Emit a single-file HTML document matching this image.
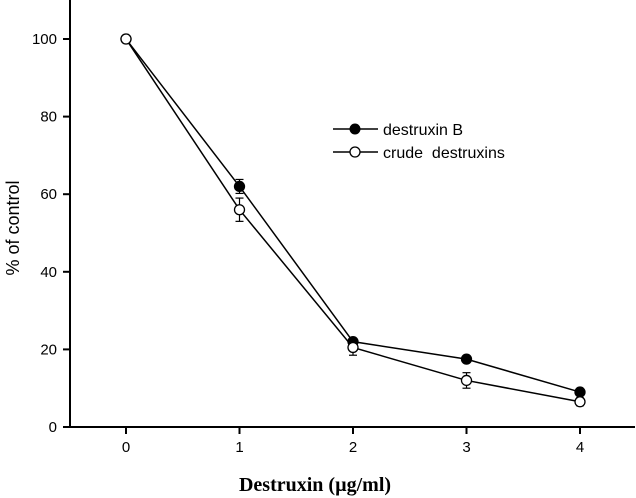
<!DOCTYPE html>
<html><head><meta charset="utf-8"><style>
body{margin:0;background:#fff;}
svg{display:block;font-family:"Liberation Sans",Arial,sans-serif;}
</style></head><body>
<svg id="c" width="636" height="498" viewBox="0 0 636 498" xmlns="http://www.w3.org/2000/svg"></svg>
<script>
const xCats=[0,1,2,3,4];
const destruxinB=[100,62,22,17.5,9];
const destruxinBErr=[0,1.8,0.8,0.8,0.8];
const crude=[100,56,20.5,12,6.5];
const crudeErr=[0,3,2,2,1];
const yTicks=[0,20,40,60,80,100];
const NS="http://www.w3.org/2000/svg";
const svg=document.getElementById('c');
const X=v=>126+v*113.5;
const Y=v=>427-v*3.88;
function mk(t,a,p){const e=document.createElementNS(NS,t);for(const k in a)e.setAttribute(k,a[k]);(p||svg).appendChild(e);return e;}
const ax=mk('g',{});


mk('line',{x1:70,y1:0,x2:70,y2:428,stroke:'#000','stroke-width':2},ax);
mk('line',{x1:69,y1:427,x2:635,y2:427,stroke:'#000','stroke-width':2},ax);
yTicks.forEach(v=>{
 mk('line',{x1:63,y1:Y(v),x2:70,y2:Y(v),stroke:'#000','stroke-width':2},ax);
 const t=mk('text',{x:57,y:Y(v)+5,'text-anchor':'end','font-size':15},ax);t.textContent=v;
 
 
});
xCats.forEach(v=>{
 mk('line',{x1:X(v),y1:427,x2:X(v),y2:434,stroke:'#000','stroke-width':2},ax);
 const t=mk('text',{x:X(v),y:452,'text-anchor':'middle','font-size':15},ax);t.textContent=v;
 
 
});
const yt=mk('text',{x:0,y:0,transform:'translate(19,228) rotate(-90)','text-anchor':'middle','font-size':18});
yt.textContent='% of control';


const xt=mk('text',{x:315,y:491,'text-anchor':'middle','font-size':20,'font-weight':'bold','font-family':'Liberation Serif,serif'});
xt.textContent='Destruxin (µg/ml)';


function series(vals,errs,fill,name){
 const g=mk('g',{});
 
 
 mk('polyline',{points:vals.map((v,i)=>X(xCats[i])+','+Y(v)).join(' '),fill:'none',stroke:'#000','stroke-width':1.5},g);
 vals.forEach((v,i)=>{
  const x=X(xCats[i]);
  if(errs[i]>0){
   mk('line',{x1:x,y1:Y(v+errs[i]),x2:x,y2:Y(v-errs[i]),stroke:'#000','stroke-width':1.2},g);
   mk('line',{x1:x-4,y1:Y(v+errs[i]),x2:x+4,y2:Y(v+errs[i]),stroke:'#000','stroke-width':1.2},g);
   mk('line',{x1:x-4,y1:Y(v-errs[i]),x2:x+4,y2:Y(v-errs[i]),stroke:'#000','stroke-width':1.2},g);
  }
  const c=mk('circle',{cx:x,cy:Y(v),r:5,fill:fill,stroke:'#000','stroke-width':1.3},g);
  
  
 });
}
series(destruxinB,destruxinBErr,'#000','series-destruxin-b');
series(crude,crudeErr,'#fff','series-crude-destruxins');
const lg=mk('g',{});


mk('line',{x1:333,y1:129,x2:378,y2:129,stroke:'#000','stroke-width':1.5},lg);
mk('circle',{cx:355,cy:129,r:5,fill:'#000',stroke:'#000'},lg);
let t=mk('text',{x:383,y:135,'font-size':16},lg);t.textContent='destruxin B';
mk('line',{x1:333,y1:152,x2:378,y2:152,stroke:'#000','stroke-width':1.5},lg);
mk('circle',{cx:355,cy:152,r:5,fill:'#fff',stroke:'#000','stroke-width':1.3},lg);
t=mk('text',{x:383,y:158,'font-size':16},lg);t.textContent='crude\u00a0 destruxins';
</script>
</body></html>
